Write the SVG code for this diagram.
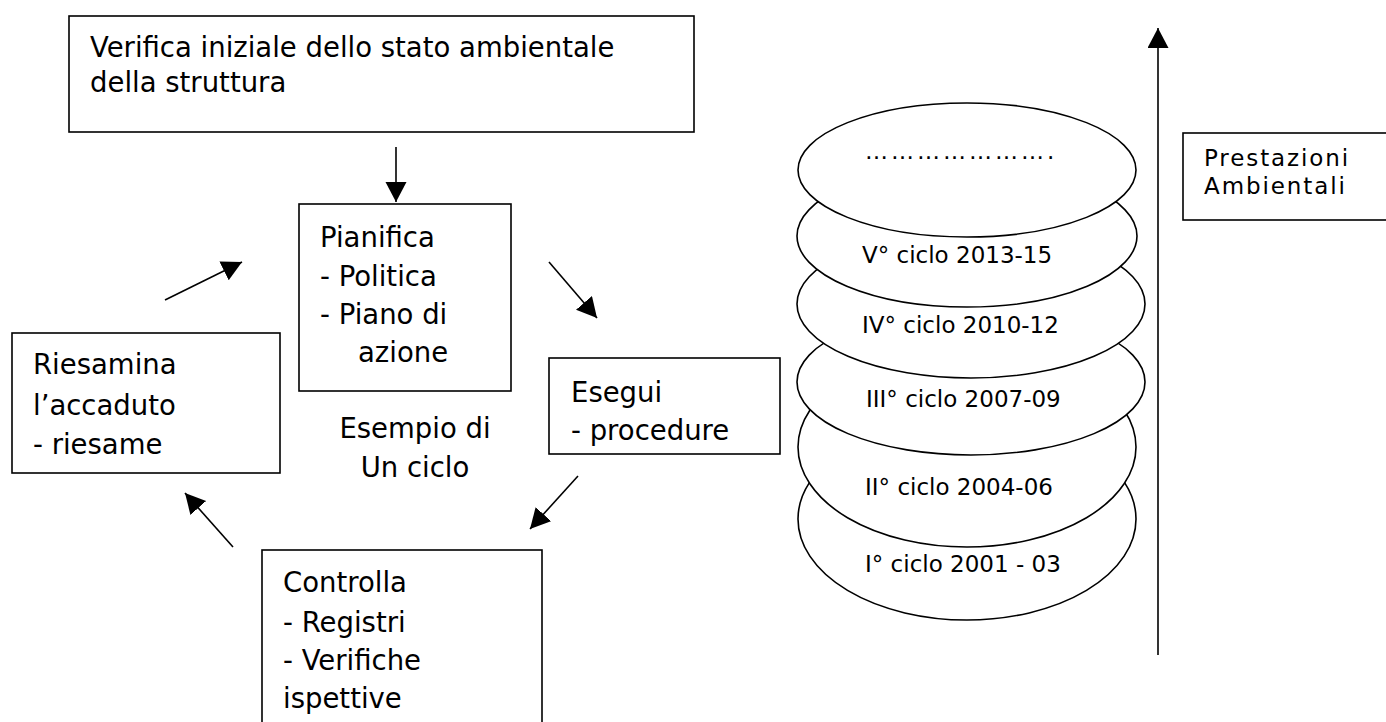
<svg xmlns="http://www.w3.org/2000/svg" width="1386" height="722" viewBox="0 0 1386 722">
<style>
.box{fill:#fff;stroke:#000;stroke-width:1.6}
.ell{fill:#fff;stroke:#000;stroke-width:1.6}
.t{font-family:"DejaVu Sans",Verdana,sans-serif;font-size:27.5px;fill:#000}
.s{font-family:"DejaVu Sans",Verdana,sans-serif;font-size:23px;fill:#000}
.d{font-family:"DejaVu Sans",Verdana,sans-serif;font-size:23px;letter-spacing:3px;fill:#000}
.p{font-family:"DejaVu Sans",Verdana,sans-serif;font-size:23px;letter-spacing:1.9px;fill:#000}
.c{stroke:#000;stroke-width:1.6;fill:none;marker-end:url(#ah)}
</style>
<defs>
<marker id="ah" markerUnits="userSpaceOnUse" markerWidth="22" markerHeight="22" refX="20" refY="10.5" orient="auto">
<path d="M0,0 L20,10.5 L0,21 z" fill="#000"/>
</marker>
</defs>
<rect width="1386" height="722" fill="#fff"/>
<g id="verifica">
<rect class="box" x="69" y="16" width="625" height="116"/>
<text class="t" x="90" y="57">Verifica iniziale dello stato ambientale</text>
<text class="t" x="90" y="92">della struttura</text>
</g>
<g id="pianifica">
<rect class="box" x="299" y="204" width="212" height="187"/>
<text class="t" x="320" y="247">Pianifica</text>
<text class="t" x="320" y="286">- Politica</text>
<text class="t" x="320" y="324">- Piano di</text>
<text class="t" x="358" y="362">azione</text>
</g>
<g id="esempio">
<text class="t" x="415" y="438" text-anchor="middle">Esempio di</text>
<text class="t" x="415" y="477" text-anchor="middle">Un ciclo</text>
</g>
<g id="riesamina">
<rect class="box" x="12" y="333" width="268" height="140"/>
<text class="t" x="33" y="374">Riesamina</text>
<text class="t" x="33" y="415">l’accaduto</text>
<text class="t" x="33" y="454">- riesame</text>
</g>
<g id="esegui">
<rect class="box" x="549" y="358" width="231" height="96"/>
<text class="t" x="571" y="402">Esegui</text>
<text class="t" x="571" y="440">- procedure</text>
</g>
<g id="controlla">
<rect class="box" x="262" y="550" width="280" height="190"/>
<text class="t" x="283" y="592">Controlla</text>
<text class="t" x="283" y="632">- Registri</text>
<text class="t" x="283" y="670">- Verifiche</text>
<text class="t" x="283" y="708">ispettive</text>
</g>
<g id="cicli">
<g id="ciclo1"><ellipse class="ell" cx="967" cy="519" rx="169" ry="101"/><text class="s" x="865" y="572">I° ciclo 2001 - 03</text></g>
<g id="ciclo2"><ellipse class="ell" cx="967" cy="447" rx="169" ry="100"/><text class="s" x="865" y="495">II° ciclo 2004-06</text></g>
<g id="ciclo3"><ellipse class="ell" cx="971" cy="382" rx="174" ry="73"/><text class="s" x="866" y="407">III° ciclo 2007-09</text></g>
<g id="ciclo4"><ellipse class="ell" cx="971" cy="304" rx="174" ry="74"/><text class="s" x="862" y="333">IV° ciclo 2010-12</text></g>
<g id="ciclo5"><ellipse class="ell" cx="967" cy="236" rx="170" ry="71"/><text class="s" x="862" y="263">V° ciclo 2013-15</text></g>
<g id="cicloN"><ellipse class="ell" cx="967" cy="170" rx="169" ry="67"/><text class="d" x="865" y="159">&#8230;&#8230;&#8230;&#8230;&#8230;&#8230;&#8230;.</text></g>
</g>
<g id="prestazioni">
<rect class="box" x="1183" y="133" width="220" height="87"/>
<text class="p" x="1204" y="166">Prestazioni</text>
<text class="p" x="1204" y="194">Ambientali</text>
</g>
<g id="connectors">
<line class="c" x1="396" y1="147" x2="396" y2="202"/>
<line class="c" x1="165" y1="300" x2="242" y2="262"/>
<line class="c" x1="549" y1="262" x2="597" y2="318"/>
<line class="c" x1="578" y1="476" x2="530" y2="529"/>
<line class="c" x1="233" y1="547" x2="185" y2="493"/>
<line class="c" x1="1158" y1="655" x2="1158" y2="28"/>
</g>
</svg>
